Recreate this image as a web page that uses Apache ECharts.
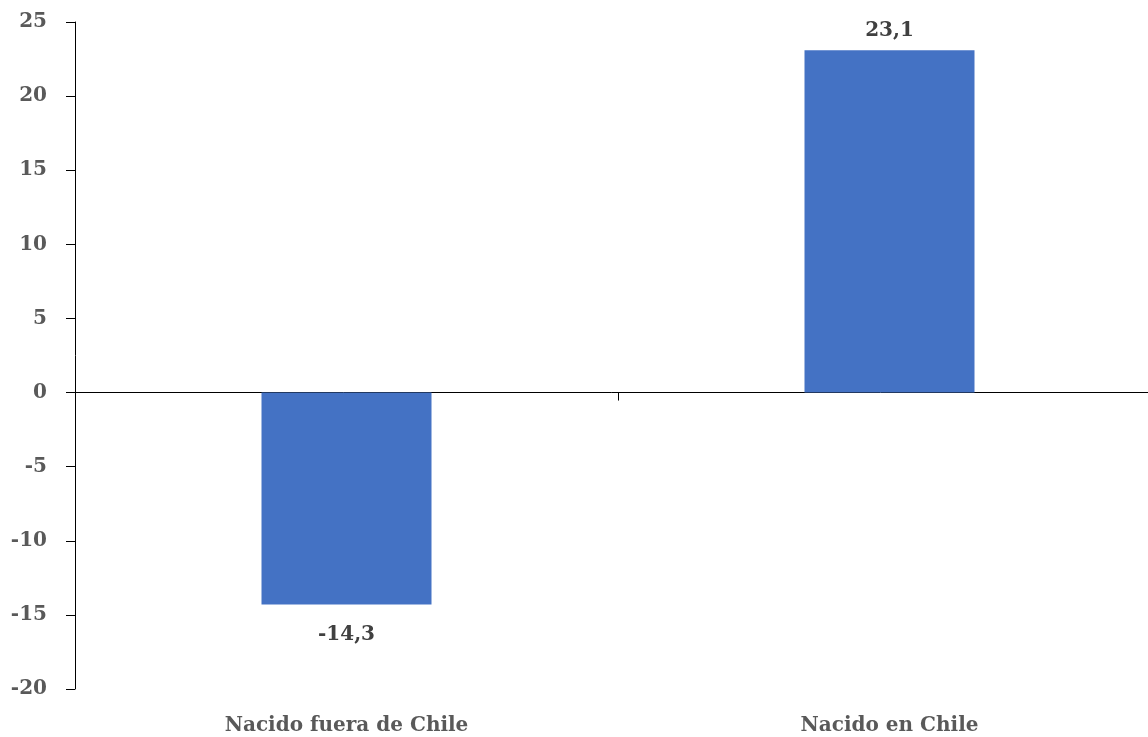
<!DOCTYPE html>
<html><head><meta charset="utf-8">
<script src="https://cdn.jsdelivr.net/npm/echarts@6/dist/echarts.min.js"></script>
<style>html,body{margin:0;padding:0;background:#fff;overflow:hidden}#c{width:1148px;height:737px}</style>
</head><body><div id="c"></div>
<script>
const categories = ['Nacido fuera de Chile', 'Nacido en Chile'];
const values = [-14.3, 23.1];
const yMin = -20, yMax = 25, yStep = 5;

const FONT = '"DejaVu Serif", serif';
const chart = echarts.init(document.getElementById('c'), null, {renderer: 'canvas'});
chart.setOption({
  animation: false,
  backgroundColor: '#ffffff',
  grid: {left: 75, width: 1086, top: 22, bottom: 48, containLabel: false, outerBoundsMode: 'none'},
  xAxis: [{
    type: 'category', data: categories,
    axisLine: {onZero: true, lineStyle: {color: '#000', width: 1}},
    axisTick: {show: true, length: 8, lineStyle: {color: '#000'}},
    axisLabel: {show: false}
  }, {
    type: 'category', data: categories, position: 'bottom',
    axisLine: {show: false, onZero: false}, axisTick: {show: false},
    axisLabel: {margin: 27, color: '#595959', fontFamily: FONT, fontWeight: 'bold', fontSize: 20}
  }],
  yAxis: {
    type: 'value', min: yMin, max: yMax, interval: yStep,
    splitLine: {show: false},
    axisLine: {show: true, lineStyle: {color: '#000'}},
    axisTick: {show: true, length: 9, lineStyle: {color: '#000'}},
    axisLabel: {margin: 28, color: '#595959', fontFamily: FONT, fontWeight: 'bold', fontSize: 20}
  },
  series: [{
    type: 'bar', xAxisIndex: 0, barWidth: 170,
    data: values.map(v => ({value: v, label: {distance: v < 0 ? 20 : 9}})),
    itemStyle: {color: '#4472C4'},
    label: {show: true, position: 'outside', color: '#404040', fontFamily: FONT, fontWeight: 'bold', fontSize: 20,
      formatter: p => String(p.value).replace('.', ',')}
  }]
});
</script></body></html>
